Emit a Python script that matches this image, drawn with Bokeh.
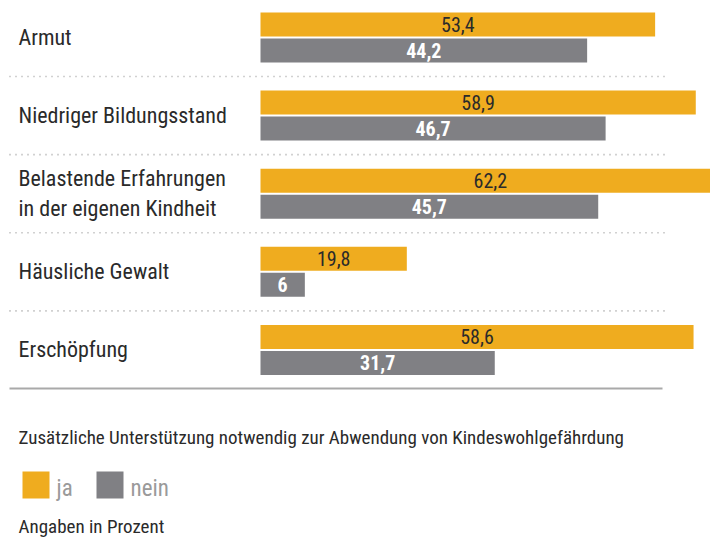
from bokeh.plotting import figure
from bokeh.models import Range1d, ColumnDataSource
from bokeh.core.properties import value
from bokeh.embed import file_html
from bokeh.resources import INLINE

# ---- data ----
categories = ["Armut", "Niedriger Bildungsstand",
              "Belastende Erfahrungen\nin der eigenen Kindheit",
              "Häusliche Gewalt", "Erschöpfung"]
ja = [53.4, 58.9, 62.2, 19.8, 58.6]
nein = [44.2, 46.7, 45.7, 6, 31.7]
series_names = ["ja", "nein"]
title_text = "Zusätzliche Unterstützung notwendig zur Abwendung von Kindeswohlgefährdung"
note_text = "Angaben in Prozent"

def fmt(v):
    s = ("%.1f" % v).replace(".", ",")
    return s[:-2] if s.endswith(",0") else s

# ---- layout ----
W, H = 710, 540
X0 = 260.0          # pixel of value 0
SCALE = 7.39        # pixels per percent
TOP0, PITCH = 12.0, 78.1
BAR_H = 24.0
ORANGE = "#EFAC1F"
GREY = "#808084"
FONT = "'Liberation Sans Narrow', 'Arial Narrow', 'Roboto Condensed', Roboto, sans-serif"

def px(xp):
    return (xp - X0) / SCALE

p = figure(width=W, height=H, output_backend="svg", toolbar_location=None,
           x_range=Range1d(px(0), px(W)), y_range=Range1d(H, 0),
           x_axis_type=None, y_axis_type=None, min_border=0)
p.grid.visible = False
p.outline_line_color = None
p.background_fill_color = "white"

tops = [TOP0 + PITCH * i for i in range(len(categories))]
ja_y = [t + BAR_H / 2 for t in tops]
nein_y = [t + BAR_H + 2 + BAR_H / 2 for t in tops]

src = ColumnDataSource(dict(
    ja=ja, nein=nein, ja_y=ja_y, nein_y=nein_y,
    ja_mid=[v / 2 for v in ja], nein_mid=[v / 2 for v in nein],
    ja_lab=[fmt(v) for v in ja], nein_lab=[fmt(v) for v in nein],
    cat=categories, cat_y=[t + BAR_H + 0.5 for t in tops],
    cat_x=[px(18)] * len(categories),
))

p.hbar(y="ja_y", left=0, right="ja", height=BAR_H, color=ORANGE, line_color=None, source=src)
p.hbar(y="nein_y", left=0, right="nein", height=BAR_H, color=GREY, line_color=None, source=src)

p.text(x="ja_mid", y="ja_y", text="ja_lab", source=src, text_font=value(FONT),
       text_font_size="20px", text_color="#2a2a2a", text_align="center", text_baseline="middle")
p.text(x="nein_mid", y="nein_y", text="nein_lab", source=src, text_font=value(FONT),
       text_font_size="20px", text_font_style="bold", text_color="white",
       text_align="center", text_baseline="middle")

p.text(x="cat_x", y="cat_y", text="cat", source=src, text_font=value(FONT),
       text_font_size="22px", text_color="#2a2a2a", text_align="left",
       text_baseline="middle", text_line_height=1.2)

# dotted separators
sep_y = [(tops[i] + 2 * BAR_H + 2 + tops[i + 1]) / 2 for i in range(len(tops) - 1)]
p.segment(x0=[px(9)] * len(sep_y), x1=[px(664)] * len(sep_y), y0=sep_y, y1=sep_y,
          line_color="#a3a3a3", line_width=1.6, line_dash="1 5")

# solid base line
base_y = tops[-1] + 2 * BAR_H + 2 + 13.5
p.segment(x0=[px(9)], x1=[px(662)], y0=[base_y], y1=[base_y], line_color="#a9a9a9", line_width=2)

# title / legend / note
p.text(x=[px(18)], y=[437], text=[title_text], text_font=value(FONT), text_font_size="19px",
       text_color="#2a2a2a", text_baseline="middle")
leg_x = [22, 96]
leg_cols = [ORANGE, GREY]
p.quad(left=[px(x) for x in leg_x], right=[px(x + 27) for x in leg_x],
       top=[471, 471], bottom=[498, 498], color=leg_cols, line_color=None)
p.text(x=[px(x + 34) for x in leg_x], y=[488, 488], text=series_names, text_font=value(FONT),
       text_font_size="23px", text_color="#9a9a9a", text_baseline="middle")
p.text(x=[px(18)], y=[526], text=[note_text], text_font=value(FONT), text_font_size="19px",
       text_color="#2a2a2a", text_baseline="middle")

open("out.html", "w").write(file_html(p, INLINE))
